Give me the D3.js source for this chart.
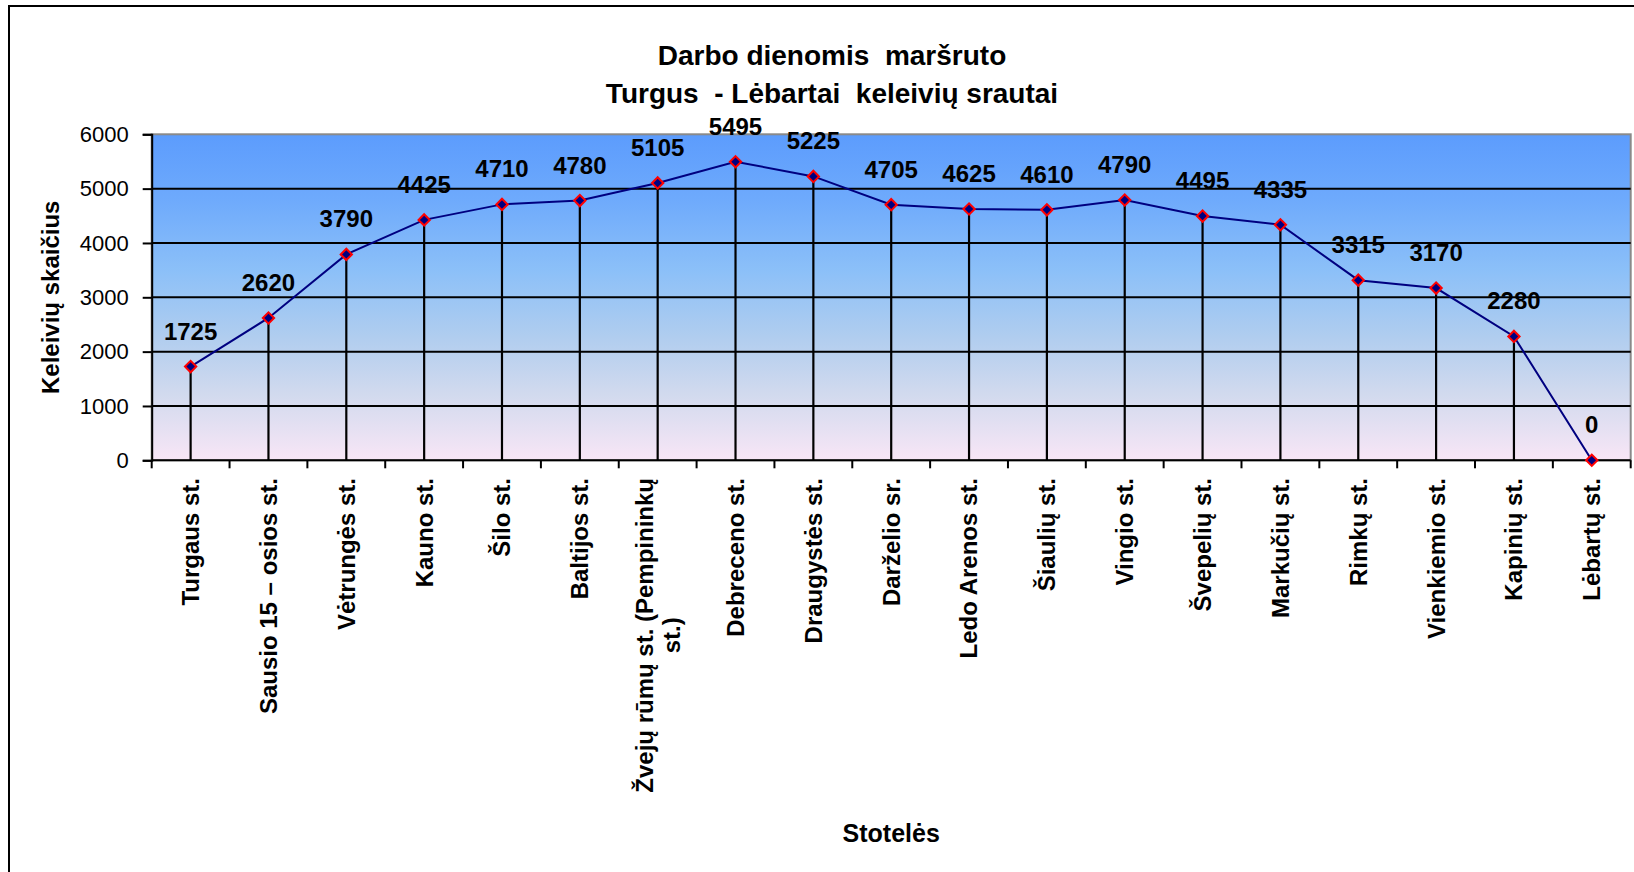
<!DOCTYPE html>
<html><head><meta charset="utf-8">
<script src="https://cdn.jsdelivr.net/npm/d3@7"></script>
<style>
body{margin:0;background:#fff;}
svg{display:block;}
text{font-family:"Liberation Sans",Arial,Helvetica,sans-serif;fill:#000;}
</style>
</head><body>
<svg id="c" width="1634" height="872"></svg>
<script>
const categories = ["Turgaus st.", "Sausio 15 – osios st.", "Vėtrungės st.", "Kauno st.", "Šilo st.", "Baltijos st.", "Žvejų rūmų st. (Pempininkų st.)", "Debreceno st.", "Draugystės st.", "Darželio sr.", "Ledo Arenos st.", "Šiaulių st.", "Vingio st.", "Švepelių st.", "Markučių st.", "Rimkų st.", "Vienkiemio st.", "Kapinių st.", "Lėbartų st."];
const values = [1725, 2620, 3790, 4425, 4710, 4780, 5105, 5495, 5225, 4705, 4625, 4610, 4790, 4495, 4335, 3315, 3170, 2280, 0];
const yTicks = [0, 1000, 2000, 3000, 4000, 5000, 6000];
const titleLines = ["Darbo dienomis  maršruto", "Turgus  - Lėbartai  keleivių srautai"];
const yTitle = "Keleivių skaičius";
const xTitle = "Stotelės";

const svg = d3.select("#c");
const plot = {left: 151.7, right: 1630.7, top: 134.3, bottom: 460.3};
const x = d3.scaleBand().domain(categories).range([plot.left, plot.right]).padding(0);
const y = d3.scaleLinear().domain([0, 6000]).range([plot.bottom, plot.top]);
const cx = c => x(c) + x.bandwidth() / 2;

// gradient
const defs = svg.append("defs");
const grad = defs.append("linearGradient").attr("id", "bg").attr("x1", 0).attr("y1", 0).attr("x2", 0).attr("y2", 1);
[[0, "#5c9cfd"], [0.2, "#6eaafc"], [0.42, "#8cc0f8"], [0.62, "#b0cdef"], [0.8, "#d2daee"], [1, "#f8e6f6"]]
  .forEach(([o, c]) => grad.append("stop").attr("offset", o).attr("stop-color", c));

// outer border
svg.append("rect").attr("x", 9).attr("y", 6).attr("width", 1800).attr("height", 1000)
  .attr("fill", "#fff").attr("stroke", "#000").attr("stroke-width", 2);

// plot background
svg.append("rect").attr("x", plot.left).attr("y", plot.top)
  .attr("width", plot.right - plot.left).attr("height", plot.bottom - plot.top)
  .attr("fill", "url(#bg)").attr("stroke", "#8a8a8a").attr("stroke-width", 2);

// gridlines
svg.append("g").selectAll("line").data(yTicks.filter(t => t > 0 && t < 6000)).join("line")
  .attr("x1", plot.left).attr("x2", plot.right)
  .attr("y1", d => y(d)).attr("y2", d => y(d))
  .attr("stroke", "#000").attr("stroke-width", 2);

// y axis
const yAxis = svg.append("g").attr("transform", `translate(${plot.left},0)`)
  .call(d3.axisLeft(y).tickValues(yTicks).tickSize(9).tickPadding(14).tickFormat(d3.format("d")));
yAxis.select(".domain").attr("stroke", "#000").attr("stroke-width", 2);
yAxis.selectAll(".tick line").attr("stroke", "#000").attr("stroke-width", 2);
yAxis.selectAll(".tick text").attr("font-size", 22).attr("font-family", "Liberation Sans, Arial, sans-serif").attr("fill", "#000");

// x axis line + ticks at band boundaries
svg.append("line").attr("x1", plot.left).attr("x2", plot.right).attr("y1", plot.bottom).attr("y2", plot.bottom)
  .attr("stroke", "#000").attr("stroke-width", 2);
const bounds = categories.map(c => x(c)).concat([x(categories[categories.length - 1]) + x.bandwidth()]);
svg.append("g").selectAll("line").data(bounds).join("line")
  .attr("x1", d => d).attr("x2", d => d).attr("y1", plot.bottom).attr("y2", plot.bottom + 8)
  .attr("stroke", "#000").attr("stroke-width", 2);

// drop lines
svg.append("g").selectAll("line").data(categories).join("line")
  .attr("x1", d => cx(d)).attr("x2", d => cx(d))
  .attr("y1", (d, i) => y(values[i])).attr("y2", y(0))
  .attr("stroke", "#000").attr("stroke-width", 2.2);

// series line
svg.append("path").datum(values)
  .attr("d", d3.line().x((v, i) => cx(categories[i])).y(v => y(v)))
  .attr("fill", "none").attr("stroke", "#000080").attr("stroke-width", 2);

// markers
svg.append("g").selectAll("path").data(values).join("path")
  .attr("d", d3.symbol(d3.symbolSquare, 64))
  .attr("transform", (v, i) => `translate(${cx(categories[i])},${y(v)}) rotate(45)`)
  .attr("fill", "#000080").attr("stroke", "#ff0000").attr("stroke-width", 2);

// data labels
svg.append("g").selectAll("text").data(values).join("text")
  .attr("x", (v, i) => cx(categories[i])).attr("y", v => y(v) - 27)
  .attr("text-anchor", "middle").attr("font-size", 24).attr("font-weight", "bold")
  .text(v => v);

// x category labels (rotated, wrapped)
const lineH = 27, maxW = 320, labelTop = 478;
categories.forEach(c => {
  const g = svg.append("g").attr("transform", `translate(${cx(c)},${labelTop}) rotate(-90)`);
  const probe = g.append("text").attr("font-size", 24).attr("font-weight", "bold");
  const words = c.split(" ");
  const lines = [];
  let cur = "";
  words.forEach(w => {
    const t = cur ? cur + " " + w : w;
    probe.text(t);
    if (probe.node().getComputedTextLength() > maxW && cur) { lines.push(cur); cur = w; }
    else cur = t;
  });
  lines.push(cur);
  const widths = lines.map(l => { probe.text(l); return probe.node().getComputedTextLength(); });
  probe.remove();
  const blockW = Math.max(...widths);
  lines.forEach((l, i) => {
    g.append("text").attr("font-size", 24).attr("font-weight", "bold")
      .attr("text-anchor", "middle")
      .attr("x", -blockW / 2)
      .attr("y", (i - (lines.length - 1) / 2) * lineH)
      .attr("dy", "0.35em")
      .text(l);
  });
});

// titles
svg.append("g").selectAll("text").data(titleLines).join("text")
  .attr("x", 832).attr("y", (d, i) => 65 + i * 38)
  .attr("text-anchor", "middle").attr("font-size", 28).attr("font-weight", "bold")
  .style("white-space", "pre").attr("xml:space", "preserve")
  .text(d => d);

svg.append("text")
  .attr("transform", `translate(59,${(plot.top + plot.bottom) / 2}) rotate(-90)`)
  .attr("text-anchor", "middle").attr("font-size", 24).attr("font-weight", "bold")
  .text(yTitle);

svg.append("text").attr("x", (plot.left + plot.right) / 2).attr("y", 842)
  .attr("text-anchor", "middle").attr("font-size", 25).attr("font-weight", "bold")
  .text(xTitle);
</script>
</body></html>
